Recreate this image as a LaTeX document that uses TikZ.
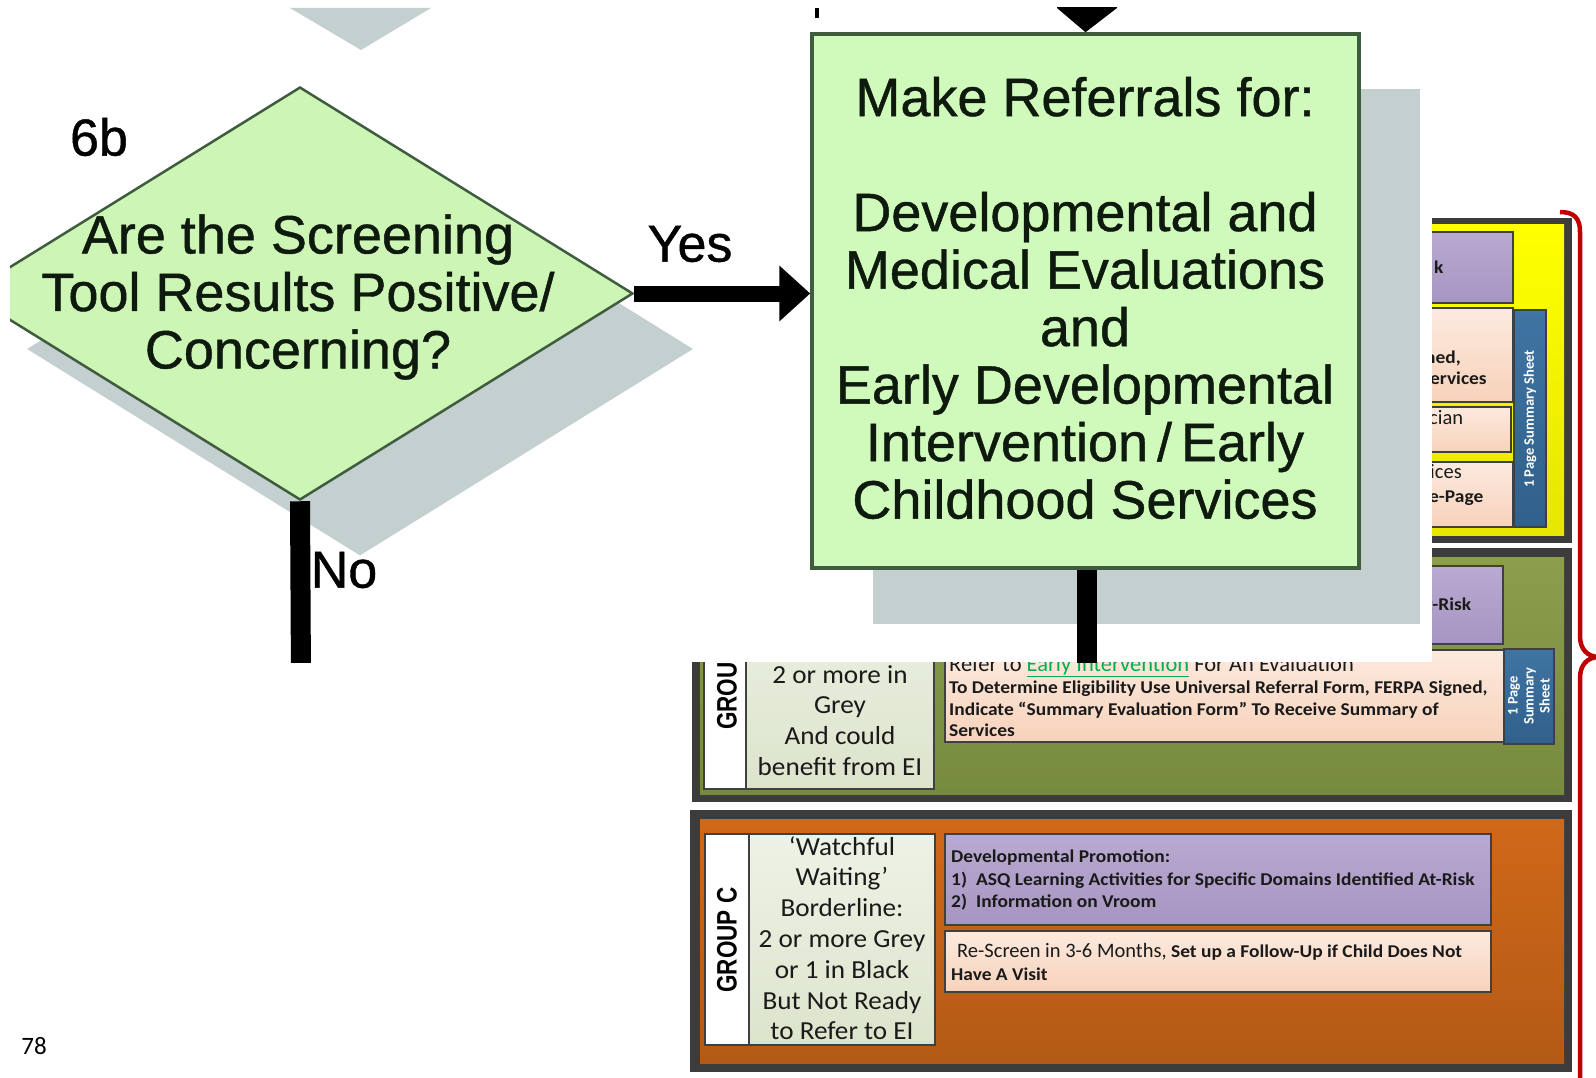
\documentclass[tikz,border=0pt]{standalone}
\usepackage{fontspec}
\setmainfont{Liberation Sans}
\newfontfamily\calfont{Carlito}
\newfontfamily\calfontw{Carlito}[FakeStretch=1.08]
\newfontfamily\calfontc{Carlito}[FakeStretch=1.045]
\newfontfamily\flowfont{Liberation Sans}[FakeBold=0.8]
\usetikzlibrary{shapes.geometric,arrows.meta}

\definecolor{flowfill}{HTML}{CDF5B6}
\definecolor{reffill}{HTML}{D0FABB}
\definecolor{flowline}{HTML}{3F5C3F}
\definecolor{flowink}{HTML}{0E1A0E}
\definecolor{shadowgray}{HTML}{C4CFCF}
\definecolor{framegray}{HTML}{3C3C3C}
\definecolor{boxline}{HTML}{404040}
\definecolor{tabink}{HTML}{1A1A1A}
\definecolor{yelT}{HTML}{FFFF00}
\definecolor{yelB}{HTML}{E6E600}
\definecolor{grnT}{HTML}{8A9E4C}
\definecolor{grnB}{HTML}{778A3E}
\definecolor{orgT}{HTML}{D06818}
\definecolor{orgB}{HTML}{B35A16}
\definecolor{purT}{HTML}{B9AAD1}
\definecolor{purB}{HTML}{A795C1}
\definecolor{peaT}{HTML}{FCEADF}
\definecolor{peaB}{HTML}{F7D2BA}
\definecolor{bluT}{HTML}{4074A2}
\definecolor{bluB}{HTML}{30608C}
\definecolor{colT}{HTML}{EEF2E6}
\definecolor{colB}{HTML}{DCE4CC}
\definecolor{eigreen}{HTML}{00B050}
\definecolor{bracered}{HTML}{C00000}

\tikzset{
  flowtxt/.style={font=\flowfont\fontsize{54}{57.5}\selectfont, text=flowink, align=center, inner sep=0pt},
  flowlab/.style={font=\flowfont\fontsize{52}{56}\selectfont, text=black, inner sep=0pt},
  tbox/.style={draw=boxline, line width=1.6pt},
  tb/.style={font=\calfontw\bfseries\fontsize{18}{22}\selectfont, text=tabink, inner sep=0pt, anchor=base west},
  tr/.style={font=\calfont\fontsize{20.5}{24}\selectfont, text=tabink, inner sep=0pt, anchor=base west},
  colline/.style={font=\calfontc\fontsize{26}{30}\selectfont, text=tabink, inner sep=0pt, anchor=base},
  bluetxt/.style={font=\calfont\bfseries\fontsize{14.5}{16}\selectfont, text=white, inner sep=0pt, rotate=90, align=center},
  grouplab/.style={font=\bfseries\fontsize{22.5}{26}\selectfont, text=black, inner sep=0pt, rotate=90},
  diashape/.style={diamond, minimum width=666pt, minimum height=413pt, inner sep=0pt},
  refshape/.style={rectangle, minimum width=547pt, minimum height=534pt, inner sep=0pt},
}

\begin{document}
\begin{tikzpicture}[x=1pt,y=-1pt]
\useasboundingbox (0,0) rectangle (1596,1078);
\fill[white] (0,0) rectangle (1596,1078);

% ---------------- Group A (yellow) ----------------
\fill[framegray] (692,218) rectangle (1572,543);
\path[top color=yelT, bottom color=yelB] (700,225) rectangle (1564,535);
\path[tbox, top color=purT, bottom color=purB] (945,232) rectangle (1513,303);
\path[tbox, top color=peaT, bottom color=peaB] (945,308) rectangle (1513,402);
\path[tbox, top color=peaT, bottom color=peaB] (945,407) rectangle (1511,452);
\path[tbox, top color=peaT, bottom color=peaB] (945,462) rectangle (1513,527);
\path[tbox, top color=bluT, bottom color=bluB] (1514,310) rectangle (1546,527);
\node[tb] (ak) at (1434,273) {k};
\node[tb] (aned) at (1425,363) {ned,};
\node[tb] (aserv) at (1430,384) {ervices};
\node[tr] (acian) at (1429,424) {cian};
\node[tr] (aices) at (1430,478) {ices};
\node[tb] (apage) at (1429,502) {e-Page};
\node[bluetxt] (asum) at (1530,419) {1 Page Summary Sheet};

% ---------------- Group B (green) ----------------
\fill[framegray] (692,548) rectangle (1572,802);
\path[top color=grnT, bottom color=grnB] (700,557) rectangle (1564,794);
\path[tbox, fill=white] (704,563) rectangle (746,789);
\path[tbox, top color=colT, bottom color=colB] (746,563) rectangle (934,789);
\path[tbox, top color=purT, bottom color=purB] (945,566) rectangle (1503,644);
\path[tbox, top color=peaT, bottom color=peaB] (945,650) rectangle (1504,742);
\path[tbox, top color=bluT, bottom color=bluB] (1504,649) rectangle (1554,744);
\node[grouplab] (glb) at (727,696) {\scalebox{1}[1.25]{GROU}};
\foreach \t [count=\i] in {{2 or more in},{Grey},{And could},{benefit from EI}}
  {\node[colline] (gb\i) at (840,652.3+30.7*\i) {\t};}
\node[tb] (brisk) at (1426,610) {t-Risk};
\node[tr, font=\calfont\fontsize{22.5}{26}\selectfont] (bref) at (949,671) {Refer to {\color{eigreen}\underline{Early Intervention}} For An Evaluation};
\node[tb] (bl1) at (949,693) {To Determine Eligibility Use Universal Referral Form, FERPA Signed,};
\node[tb] (bl2) at (949,715) {Indicate “Summary Evaluation Form” To Receive Summary of};
\node[tb] (bl3) at (949,736) {Services};
\node[bluetxt] (bsum) at (1529,696) {1 Page\\Summary\\Sheet};

% ---------------- Group C (orange) ----------------
\fill[framegray] (690,810) rectangle (1572,1072);
\path[top color=orgT, bottom color=orgB] (700,819) rectangle (1564,1063);
\path[tbox, fill=white] (705,834) rectangle (749,1045);
\path[tbox, top color=colT, bottom color=colB] (749,834) rectangle (935,1045);
\path[tbox, top color=purT, bottom color=purB] (945,834) rectangle (1491,925);
\path[tbox, top color=peaT, bottom color=peaB] (945,931) rectangle (1491,992);
\node[grouplab] (glc) at (727,940) {\scalebox{1}[1.25]{GROUP C}};
\foreach \t [count=\i] in {{‘Watchful},{Waiting’},{Borderline:},{2 or more Grey},{or 1 in Black},{But Not Ready},{to Refer to EI}}
  {\node[colline] (gc\i) at (842,824.2+30.8*\i) {\t};}
\node[tb] (cdp) at (951,862) {Developmental Promotion:};
\node[tb] (c1n) at (951,885) {1)};
\node[tb] (c1) at (976,885) {ASQ Learning Activities for Specific Domains Identified At-Risk};
\node[tb] (c2n) at (951,907) {2)};
\node[tb] (c2) at (976,907) {Information on Vroom};
\node[tb] (crs) at (957,957) {{\calfont\mdseries\fontsize{20.5}{24}\selectfont Re-Screen in 3-6 Months,} Set up a Follow-Up if Child Does Not};
\node[tb] (cvis) at (951,980) {Have A Visit};

% ---------------- red brace ----------------
\draw[bracered, line width=4.5pt]
  (1560,212) .. controls (1574,212) and (1580,218) .. (1580,232)
  -- (1580,636) .. controls (1580,650) and (1588,656) .. (1597,657)
  .. controls (1588,658) and (1580,664) .. (1580,678) -- (1580,1090);

% ---------------- page number ----------------
\node[font=\calfont\fontsize{25}{30}\selectfont, inner sep=0pt] (pnum) at (34,1046) {78};

% ---------------- flowchart overlay ----------------
\fill[white] (0,0) rectangle (1432,662);
\begin{scope}
\clip (10,8) rectangle (1432,662);
\fill[shadowgray] (290,8) -- (431,8) -- (361,50) -- cycle;
\fill[black] (815,8) rectangle (819,18);
\node[diashape, fill=shadowgray] (diashadow) at (360,349) {};
\node[refshape, fill=shadowgray] (refshadow) at (1146.5,356.5) {};
\node[diashape, fill=flowfill, draw=flowline, line width=2.5pt] (dia) at (300,293.5) {};
\node[refshape, fill=reffill, draw=flowline, line width=3.5pt] (ref) at (1085.5,301) {};
\draw[line width=16pt, -{Triangle[length=31pt, width=54pt]}] (dia.east) -- (dia.east -| ref.west);
\coordinate (noend) at (301,680);
\draw[line width=20pt] (dia.south) -- (noend);
\coordinate (refend) at (1087,680);
\draw[line width=20pt] (refend |- ref.south) -- (refend);
\fill[black] (1057,0) -- (1117,0) -- (1117,8) -- (ref.north) -- (1057,8) -- cycle;
\node[flowtxt] (qtext) at (298,297) {Are the Screening\\Tool Results Positive/\\Concerning?};
\node[flowtxt] (reftext) at (1085,298) {Make Referrals for:\\[57.5pt]Developmental and\\Medical Evaluations\\and\\Early Developmental\\Intervention\,/\,Early\\Childhood Services};
\node[flowlab] (lab6b) at (99,137) {6b};
\node[flowlab] (labyes) at (690,244) {Yes};
\node[flowlab] (labno) at (344,570) {No};
\end{scope}
\end{tikzpicture}
\end{document}
